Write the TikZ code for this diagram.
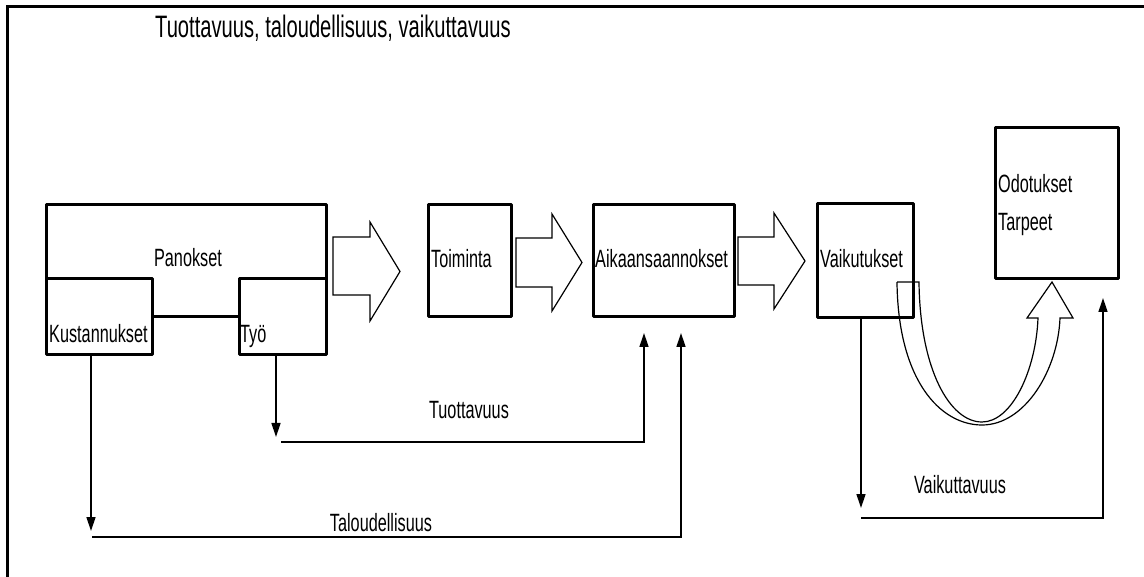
\documentclass[tikz,border=0pt]{standalone}
\usepackage{fontspec}
\setmainfont{Liberation Sans}[FakeStretch=0.65]
\usetikzlibrary{arrows.meta}

\tikzset{
  laatikko/.style={draw, line width=2.8pt, line join=round, fill=white,
    inner sep=0pt, anchor=north west},
  teksti/.style={inner sep=0pt, font=\fontsize{25}{30}\selectfont},
  nuoli/.style={line width=1.4pt, -{Triangle[length=14pt,width=9pt]}},
  isonuoli/.style={draw, line width=1.2pt, line join=miter},
}

\begin{document}
\begin{tikzpicture}[x=1pt,y=-1pt]
  \useasboundingbox (0,0) rectangle (1144,577);
  % kehys (vain ylä- ja vasen reuna näkyvät)
  \draw[line width=3pt] (7,577) -- (7,7) -- (1144,7);
  \node[teksti, anchor=base west, font=\fontsize{31}{36}\selectfont] (otsikko) at (155,38)
    {Tuottavuus, taloudellisuus, vaikuttavuus};

  % laatikot
  \node[laatikko, minimum width=280pt, minimum height=112pt] (panokset) at (45,203) {};
  \node[laatikko, minimum width=106pt, minimum height=76pt] (kustannukset) at (45,277) {};
  \node[laatikko, minimum width=87pt, minimum height=76pt] (tyo) at (238,277) {};
  \node[laatikko, minimum width=83pt, minimum height=112pt] (toiminta) at (427,203) {};
  \node[laatikko, minimum width=141pt, minimum height=112pt] (aikaan) at (592,203) {};
  \node[laatikko, minimum width=96pt, minimum height=114pt] (vaikutukset) at (816,202) {};
  \node[laatikko, minimum width=123pt, minimum height=151pt] (odotukset) at (994,126) {};

  % tekstit laatikoissa
  \node[teksti, anchor=base] (t-pan) at (188,267) {Panokset};
  \node[teksti, anchor=base west] (t-kus) at (49,343) {Kustannukset};
  \node[teksti, anchor=base west] (t-tyo) at (240,343) {Työ};
  \node[teksti, anchor=base west] (t-toi) at (431,268) {Toiminta};
  \node[teksti, anchor=base west] (t-aik) at (595,268) {Aikaansaannokset};
  \node[teksti, anchor=base west] (t-vai) at (820,268) {Vaikutukset};
  \node[teksti, anchor=base west] (t-odo) at (998,193) {Odotukset};
  \node[teksti, anchor=base west] (t-tar) at (998,231) {Tarpeet};

  % isot nuolet: häntä / kanta / kärki / varsi ylä, ala / kärki ylä, ala
  \foreach \a/\b/\c/\t/\u/\p/\q in {333/370/400/237/295/222/321,
                                     516/552/582/238/287/214/311,
                                     738/774/805/237/285/213/309}
    \draw[isonuoli] (\a,\t) -- (\b,\t) -- (\b,\p) -- (\c,{(\p+\q)/2})
      -- (\b,\q) -- (\b,\u) -- (\a,\u) -- cycle;

  % kaareva nuoli vaikutuksista odotuksiin
  \draw[isonuoli] (897,282) -- (919,282)
    .. controls (920,370) and (950,422) .. (982,422)
    .. controls (1012,422) and (1036,370) .. (1038,318)
    -- (1027,318) -- (1052,282) -- (1073,318) -- (1060,318)
    .. controls (1058,370) and (1025,425) .. (982,425)
    .. controls (940,425) and (898,380) .. (897,282);

  % mittarit
  \coordinate (tuo-alas) at (276,437);
  \coordinate (tuo-alku) at (281,442);
  \coordinate (tuo-ylos) at (644,333);
  \coordinate (tal-alas) at (91,531);
  \coordinate (tal-alku) at (92,537);
  \coordinate (tal-ylos) at (681,333);
  \coordinate (vai-alas) at (861,508);
  \coordinate (vai-alku) at (861,518);
  \coordinate (vai-ylos) at (1103,298);

  \draw[nuoli] (tyo.south -| tuo-alas) -- (tuo-alas);
  \draw[nuoli] (tuo-alku) -| (tuo-ylos);
  \draw[nuoli] (kustannukset.south -| tal-alas) -- (tal-alas);
  \draw[nuoli] (tal-alku) -| (tal-ylos);
  \draw[nuoli] (vaikutukset.south -| vai-alas) -- (vai-alas);
  \draw[nuoli] (vai-alku) -| (vai-ylos);

  \node[teksti, anchor=base] (l-tuo) at (469,418) {Tuottavuus};
  \node[teksti, anchor=base] (l-tal) at (381,531) {Taloudellisuus};
  \node[teksti, anchor=base] (l-vai) at (960,493) {Vaikuttavuus};
\end{tikzpicture}
\end{document}
